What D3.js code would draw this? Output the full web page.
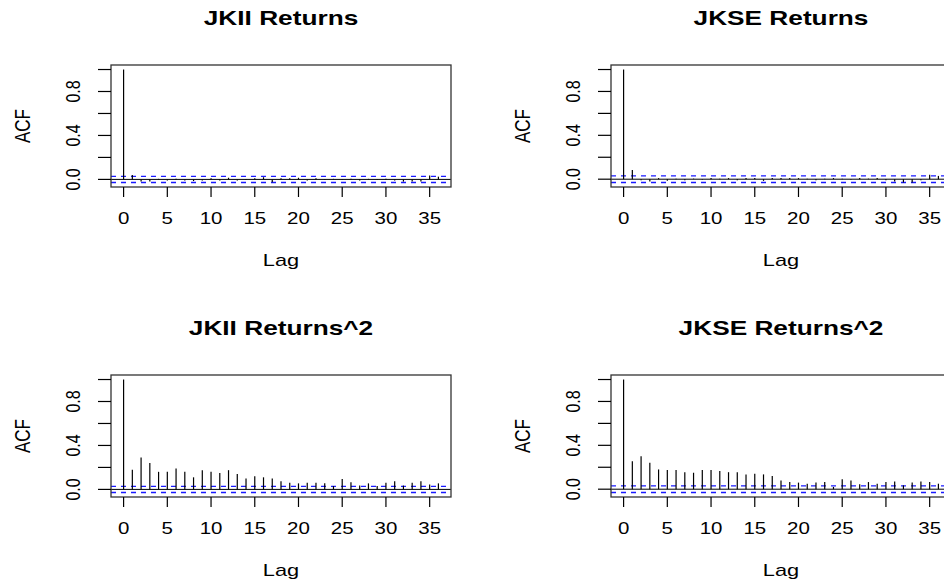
<!DOCTYPE html>
<html>
<head>
<meta charset="utf-8">
<script src="https://cdn.jsdelivr.net/npm/d3@7/dist/d3.min.js"></script>
<style>
  html, body { margin: 0; padding: 0; background: #fff; }
  svg { display: block; }
  text { font-family: "Liberation Sans", Arial, Helvetica, sans-serif; fill: #000; }
</style>
</head>
<body>
<svg id="chart" width="944" height="584"></svg>
<script>
// Autocorrelation (lags 1..36; lag 0 is always 1)
const lags = d3.range(0, 37);
const jkiiReturns = [1, 0.04, -0.02, -0.02, 0.005, -0.01, 0.005, -0.01, -0.015, -0.01, 0.01,
  -0.01, 0.015, -0.01, -0.005, 0.01, 0.02, -0.025, 0.01, 0.01, 0.015, -0.01, 0.01, -0.005,
  0.005, -0.005, 0.005, -0.01, 0.005, -0.005, 0.005, -0.01, -0.02, -0.02, -0.02, 0.035, 0.025];
const jkseReturns = [1, 0.083, -0.01, -0.02, 0.01, -0.015, 0.005, -0.01, 0.005, -0.005, 0.01,
  0.005, 0.01, -0.01, 0.01, 0.01, -0.015, 0.01, 0.01, 0.01, 0.01, 0.005, -0.01, 0.005,
  0.01, 0.005, -0.005, 0.01, 0.005, 0.01, -0.01, -0.02, -0.03, -0.03, -0.01, 0.04, 0.03];
const jkiiSquared = [1, 0.18, 0.29, 0.24, 0.16, 0.16, 0.19, 0.16, 0.11, 0.175, 0.16,
  0.15, 0.175, 0.14, 0.10, 0.12, 0.11, 0.10, 0.075, 0.06, 0.055, 0.06, 0.06, 0.055,
  0.03, 0.095, 0.065, 0.035, 0.055, 0.03, 0.06, 0.075, 0.035, 0.06, 0.075, 0.045, 0.055];
const jkseSquared = [1, 0.255, 0.30, 0.24, 0.18, 0.175, 0.175, 0.155, 0.15, 0.175, 0.175,
  0.165, 0.155, 0.155, 0.135, 0.14, 0.135, 0.12, 0.08, 0.065, 0.06, 0.05, 0.06, 0.065,
  0.02, 0.09, 0.08, 0.045, 0.065, 0.05, 0.065, 0.07, 0.035, 0.06, 0.07, 0.065, 0.05];

// 95% confidence bounds
const ciJKII = 0.028;
const ciJKSE = 0.03;

const titles = ["JKII Returns", "JKSE Returns", "JKII Returns^2", "JKSE Returns^2"];
const xTicks = [0, 5, 10, 15, 20, 25, 30, 35];
const yTicks = [0, 0.2, 0.4, 0.6, 0.8, 1.0];
const yTickLabels = ["0.0", "", "0.4", "", "0.8", ""];

const panels = [
  { title: titles[0], acf: jkiiReturns, ci: ciJKII, col: 0, row: 0 },
  { title: titles[1], acf: jkseReturns, ci: ciJKSE, col: 1, row: 0 },
  { title: titles[2], acf: jkiiSquared, ci: ciJKII, col: 0, row: 1 },
  { title: titles[3], acf: jkseSquared, ci: ciJKSE, col: 1, row: 1 }
];

const svg = d3.select("#chart");
const SX = 1.28;              // horizontal text stretch
const boxW = 340, boxH = 122;
const originX = 111, originY = 65, stepX = 500, stepY = 310;

panels.forEach(p => {
  const left = originX + p.col * stepX;
  const top = originY + p.row * stepY;
  const g = svg.append("g").attr("transform", `translate(${left},${top})`);

  // R-style 4% extension of the data range
  const xMax = d3.max(lags);
  const x = d3.scaleLinear().domain([-0.04 * xMax, xMax * 1.04]).range([0, boxW]);
  const lo = Math.min(d3.min(p.acf), -p.ci), hi = Math.max(d3.max(p.acf), p.ci);
  const pad = 0.04 * (hi - lo);
  const y = d3.scaleLinear().domain([lo - pad, hi + pad]).range([boxH, 0]);

  const clipId = "clip" + p.col + p.row;
  g.append("clipPath").attr("id", clipId)
    .append("rect").attr("width", boxW).attr("height", boxH);
  const plot = g.append("g").attr("clip-path", `url(#${clipId})`);

  // zero line
  plot.append("line")
    .attr("x1", 0).attr("x2", boxW)
    .attr("y1", y(0)).attr("y2", y(0))
    .attr("stroke", "#000").attr("stroke-width", 1);

  // confidence bounds
  [p.ci, -p.ci].forEach(c => {
    plot.append("line")
      .attr("x1", 0).attr("x2", boxW)
      .attr("y1", y(c)).attr("y2", y(c))
      .attr("stroke", "#1a1aff").attr("stroke-width", 1.3)
      .attr("stroke-dasharray", "5,5");
  });

  // ACF spikes
  plot.selectAll("line.spike")
    .data(lags.map((l, i) => ({ lag: l, v: p.acf[i] })))
    .join("line")
    .attr("class", "spike")
    .attr("x1", d => x(d.lag)).attr("x2", d => x(d.lag))
    .attr("y1", y(0)).attr("y2", d => y(d.v))
    .attr("stroke", "#000").attr("stroke-width", 1.2);

  // frame
  g.append("rect")
    .attr("x", 0).attr("y", 0).attr("width", boxW).attr("height", boxH)
    .attr("fill", "none").attr("stroke", "#333").attr("stroke-width", 1.3);

  // x axis ticks
  const xAxis = g.append("g").attr("transform", `translate(0,${boxH})`);
  xAxis.selectAll("line")
    .data(xTicks).join("line")
    .attr("x1", d => x(d)).attr("x2", d => x(d))
    .attr("y1", 0).attr("y2", 10)
    .attr("stroke", "#000").attr("stroke-width", 1.2);
  xAxis.selectAll("text")
    .data(xTicks).join("text")
    .attr("transform", d => `translate(${x(d)},37) scale(${SX},1)`)
    .attr("text-anchor", "middle")
    .attr("font-size", 16)
    .text(d => d);

  // y axis ticks
  const yAxis = g.append("g");
  yAxis.selectAll("line")
    .data(yTicks).join("line")
    .attr("x1", -13).attr("x2", 0)
    .attr("y1", d => y(d)).attr("y2", d => y(d))
    .attr("stroke", "#000").attr("stroke-width", 1.2);
  yAxis.selectAll("text")
    .data(yTicks.map((t, i) => ({ t, label: yTickLabels[i] })).filter(d => d.label))
    .join("text")
    .attr("transform", d => `translate(-31,${y(d.t)}) scale(${SX},1) rotate(-90)`)
    .attr("text-anchor", "middle")
    .attr("font-size", 16)
    .text(d => d.label);

  // axis titles
  g.append("text")
    .attr("transform", `translate(${boxW / 2},${boxH + 78.5}) scale(${SX},1)`)
    .attr("text-anchor", "middle")
    .attr("font-size", 17)
    .text("Lag");
  g.append("text")
    .attr("transform", `translate(-81,${boxH / 2}) scale(${SX},1) rotate(-90)`)
    .attr("text-anchor", "middle")
    .attr("font-size", 17)
    .text("ACF");

  // panel title
  g.append("text")
    .attr("transform", `translate(${boxW / 2},-40) scale(${SX},1)`)
    .attr("text-anchor", "middle")
    .attr("font-size", 20.5)
    .attr("font-weight", "bold")
    .text(p.title);
});
</script>
</body>
</html>
